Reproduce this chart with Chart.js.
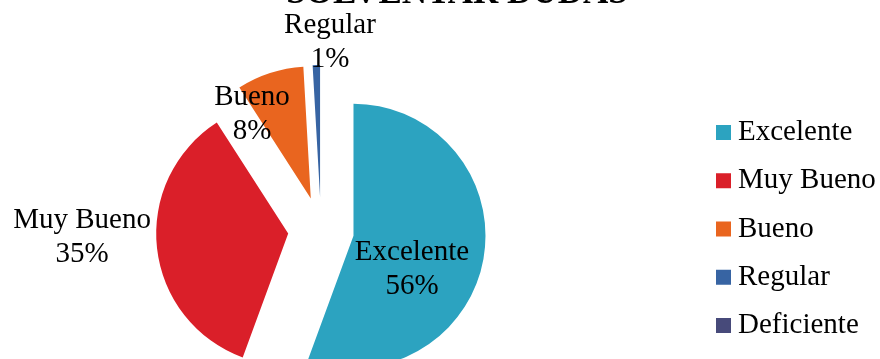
<!DOCTYPE html>
<html>
<head>
<meta charset="utf-8">
<script src="https://cdn.jsdelivr.net/npm/chart.js@4.4.1/dist/chart.umd.min.js"></script>
<style>
  html, body { margin: 0; padding: 0; background: #ffffff; }
  #wrap { width: 880px; height: 359px; overflow: hidden; }
  canvas { display: block; }
</style>
</head>
<body>
<div id="wrap"><canvas id="c" width="880" height="359"></canvas></div>
<script>
// ---- data ----
const chartTitle = 'SOLVENTAR DUDAS';
const categories = ['Excelente', 'Muy Bueno', 'Bueno', 'Regular', 'Deficiente'];
const percentages = [55.6, 35.3, 8.2, 0.9, 0];

// ---- styles ----
const sliceColors = ['#2CA3C0', '#DA1F29', '#E9651F', '#3764A3', '#474A7A'];
const FONT = '"Liberation Serif", "Times New Roman", serif';
const BASE_R = 132;      // pie radius
const EXPLODE = 33;      // explosion distance
// label block centers relative to the pie centre (dx, dy)
const labelOffsets = [[91, 39], [-239, 7], [-69, -116], [9, -188], [0, 0]];

// explode every slice by the same distance along its bisector
const explode = {
  id: 'explode',
  beforeDatasetsDraw(chart) {
    const meta = chart.getDatasetMeta(0);
    const proto = Chart.ArcElement.prototype;
    meta.data.forEach(arc => {
      if (arc._exploded) return;
      arc._exploded = true;
      arc.draw = function (ctx, area) {
        const mid = (this.startAngle + this.endAngle) / 2;
        ctx.save();
        ctx.translate(Math.cos(mid) * EXPLODE, Math.sin(mid) * EXPLODE);
        proto.draw.call(this, ctx, area);
        ctx.restore();
      };
    });
  }
};

const sliceLabels = {
  id: 'sliceLabels',
  afterDatasetsDraw(chart) {
    const ctx = chart.ctx;
    const meta = chart.getDatasetMeta(0);
    const data = chart.data.datasets[0].data;
    const total = data.reduce((a, b) => a + b, 0);
    ctx.save();
    ctx.font = '29px ' + FONT;
    ctx.fillStyle = '#000000';
    ctx.textAlign = 'center';
    ctx.textBaseline = 'middle';
    meta.data.forEach((arc, i) => {
      if (!data[i]) return;
      const cx = arc.x + labelOffsets[i][0];
      const cy = arc.y + labelOffsets[i][1];
      const pct = Math.round(data[i] / total * 100) + '%';
      ctx.fillText(chart.data.labels[i], cx, cy - 17);
      ctx.fillText(pct, cx, cy + 17);
    });
    ctx.restore();
  }
};

const sideLegend = {
  id: 'sideLegend',
  afterDraw(chart) {
    const ctx = chart.ctx;
    const items = Chart.controllers.pie.overrides.plugins.legend.labels.generateLabels(chart);
    ctx.save();
    ctx.font = '29px ' + FONT;
    ctx.textAlign = 'left';
    ctx.textBaseline = 'middle';
    items.forEach((it, i) => {
      const y = 132.5 + i * 48.25;
      ctx.fillStyle = it.fillStyle;
      ctx.fillRect(716, y - 7.5, 15, 15);
      ctx.fillStyle = '#000000';
      ctx.fillText(it.text, 738, y);
    });
    // title (mostly above the visible area)
    ctx.font = 'bold 35px ' + FONT;
    ctx.textAlign = 'center';
    ctx.textBaseline = 'alphabetic';
    ctx.fillText(chartTitle, 457, 3);
    ctx.restore();
  }
};

new Chart(document.getElementById('c'), {
  type: 'pie',
  data: {
    labels: categories,
    datasets: [{
      data: percentages,
      backgroundColor: sliceColors,
      borderWidth: 0,
      offset: 0,
      hoverOffset: 0,
      radius: BASE_R
    }]
  },
  options: {
    responsive: false,
    devicePixelRatio: 1,
    animation: false,
    events: [],
    layout: { padding: { left: 0, right: 238, top: 101, bottom: 0 } },
    plugins: {
      legend: { display: false },
      title: { display: false },
      tooltip: { enabled: false }
    }
  },
  plugins: [explode, sliceLabels, sideLegend]
});
</script>
</body>
</html>
